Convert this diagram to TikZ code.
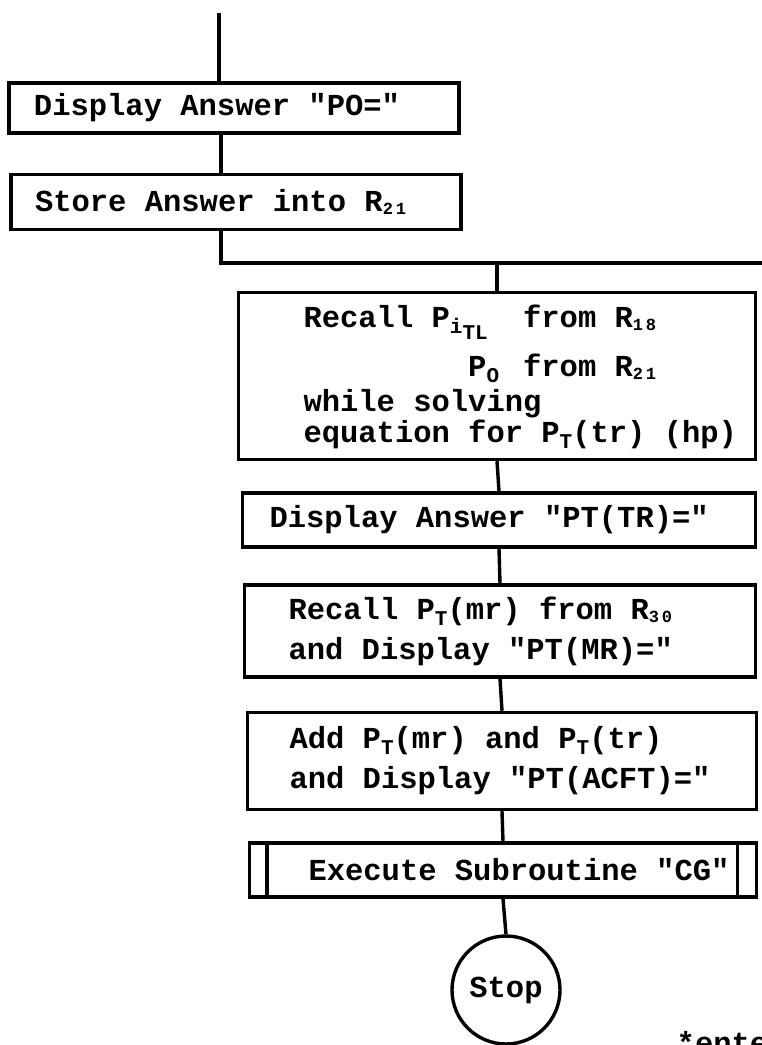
\documentclass[tikz,border=0pt]{standalone}
\usepackage{fontspec}
\setmainfont{Liberation Mono}[Ligatures=TeXOff, BoldFont={Liberation Mono Bold}]
\usetikzlibrary{positioning, calc}
\newlength{\chw}\setlength{\chw}{18.3pt}
\newcommand{\sbs}[1]{\raisebox{-6pt}{\fontsize{21}{21}\selectfont #1}}
\newcommand{\reg}[1]{\raisebox{-3pt}{\fontsize{17}{17}\selectfont #1}}
\tikzset{
  every picture/.style={x=1pt, y=-1pt, line width=3.4pt, font=\fontsize{30.5}{31}\selectfont\bfseries},
  frame/.style={draw, rectangle, inner sep=0pt, minimum width=#1},
  txt/.style={anchor=west, align=left, inner sep=0pt},
  stopnode/.style={draw, circle, minimum size=108pt, inner sep=0pt},
}
\begin{document}
\begin{tikzpicture}
  \useasboundingbox (0,0) rectangle (762,1045);
  % upper column
  \node[frame=450pt, minimum height=50pt] (A) at (234,108) {};
  \node[txt] (At) at ([xshift=25pt]A.west) {Display Answer "PO="};
  \node[frame=450pt, minimum height=55pt] (B) at (236,202) {};
  \node[txt] (Bt) at ([xshift=24pt]B.west) {Store Answer into R\reg{2\,1}};
  % lower column
  \node[frame=517pt, minimum height=167pt] (C) at (497,376) {};
  \node[txt] (Ct) at ([xshift=65pt,yshift=-1pt]C.west)
    {\makebox[12\chw][l]{Recall P\sbs{i\sbs{TL}}}from R\reg{1\,8}\\[14pt]
     \hspace*{9\chw}\makebox[3\chw][l]{P\sbs{O}}from R\reg{2\,1}\\[4pt]
     while solving\\
     equation for P\sbs{T}(tr) (hp)};
  \node[frame=513pt, minimum height=54pt] (D) at (499,520) {};
  \node[txt] (Dt) at ([xshift=27pt]D.west) {Display Answer "PT(TR)="};
  \node[frame=511pt, minimum height=92pt] (E) at (500,631) {};
  \node[txt] (Et) at ([xshift=44pt]E.west)
    {Recall P\sbs{T}(mr) from R\reg{3\,0}\\[9pt] and Display "PT(MR)="};
  \node[frame=509pt, minimum height=97pt] (F) at (502,761) {};
  \node[txt] (Ft) at ([xshift=42pt]F.west)
    {Add P\sbs{T}(mr) and P\sbs{T}(tr)\\[9pt] and Display "PT(ACFT)="};
  \node[frame=507pt, minimum height=54pt] (G) at (503,870) {};
  \node[txt] (Gt) at ([xshift=59pt]G.west) {Execute Subroutine "CG"};
  \draw ([xshift=19pt]G.north west) -- ([xshift=19pt]G.south west);
  \draw ([xshift=-21pt]G.north east) -- ([xshift=-21pt]G.south east);
  \node[stopnode] (stop) at (506,990) {Stop};
  \node[anchor=base west, inner sep=0pt] (note) at (675,1053) {*ente};
  % connectors
  \coordinate (start) at (219,13);
  \coordinate (split) at (221,263);
  \coordinate (far) at (775,263);
  \draw (start) -- (start |- A.north);
  \draw (A.south -| split) -- (B.north -| split);
  \draw (B.south -| split) -- (split) -- (far);
  \draw (C.north |- split) -- (C.north);
  \draw (C.south) -- (D.north);
  \draw (D.south) -- (E.north);
  \draw (E.south) -- (F.north);
  \draw (F.south) -- (G.north);
  \draw (G.south) -- (stop.north);
\end{tikzpicture}
\end{document}
